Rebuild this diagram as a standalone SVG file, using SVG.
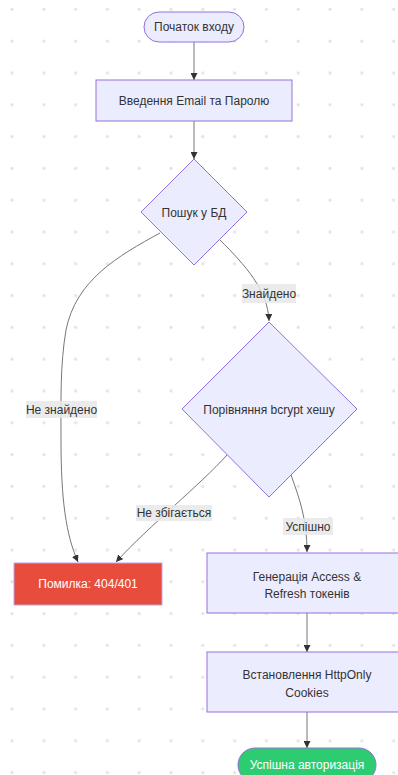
<svg xmlns="http://www.w3.org/2000/svg" width="398" height="775" viewBox="0 0 398 775">
  <style>
    .node-shape { fill: #ECECFF; stroke: #9370DB; stroke-width: 1; }
    .label { font-family: "Liberation Sans", "DejaVu Sans", sans-serif; font-size: 12px; fill: #333333; text-anchor: middle; dominant-baseline: central; }
    .label-light { fill: #ffffff; }
    .edge { fill: none; stroke: #777777; stroke-width: 1; }
    .edge-label-bg { fill: #e8e8e8; opacity: 0.85; }
  </style>
  <defs>
    <pattern id="dot-grid" patternUnits="userSpaceOnUse" x="0" y="0" width="31.8" height="31.8">
      <circle cx="12" cy="9.4" r="1.6" fill="#e3e3e3"/>
    </pattern>
    <marker id="arrow" viewBox="0 0 10 10" refX="10" refY="5" markerWidth="7" markerHeight="7" markerUnits="userSpaceOnUse" orient="auto">
      <path d="M0,0 L10,5 L0,10 z" fill="#333333"/>
    </marker>
  </defs>

  <!-- background -->
  <rect x="0" y="0" width="398" height="775" fill="#ffffff"/>
  <rect x="0" y="0" width="398" height="775" fill="url(#dot-grid)"/>

  <!-- connectors -->
  <g id="edges">
    <path class="edge" d="M194,42 L194,80" marker-end="url(#arrow)"/>
    <path class="edge" d="M194,121 L194,159" marker-end="url(#arrow)"/>
    <path class="edge" d="M220,240 C245,265 268,290 269,321" marker-end="url(#arrow)"/>
    <path class="edge" d="M160,233 C118,256 76,280 66,330 C60,365 61,400 61,440 C61,500 66,535 78,562" marker-end="url(#arrow)"/>
    <path class="edge" d="M227,455 C200,485 150,525 116,562" marker-end="url(#arrow)"/>
    <path class="edge" d="M291,475 C300,500 307,520 307,552" marker-end="url(#arrow)"/>
    <path class="edge" d="M307,613 L307,652" marker-end="url(#arrow)"/>
    <path class="edge" d="M307,712 L307,748" marker-end="url(#arrow)"/>

    <g id="edge-labels">
      <rect class="edge-label-bg" x="242" y="284" width="54" height="19"/>
      <text class="label" x="269" y="294">Знайдено</text>
      <rect class="edge-label-bg" x="26" y="401" width="71" height="17"/>
      <text class="label" x="61.5" y="410">Не знайдено</text>
      <rect class="edge-label-bg" x="136" y="505" width="76" height="16"/>
      <text class="label" x="174" y="513">Не збігається</text>
      <rect class="edge-label-bg" x="283" y="518" width="50" height="17"/>
      <text class="label" x="308" y="527">Успішно</text>
    </g>
  </g>

  <!-- nodes -->
  <g id="start">
    <rect class="node-shape" x="144" y="12" width="100" height="30" rx="15" ry="15"/>
    <text class="label" x="194" y="27">Початок входу</text>
  </g>

  <g id="input">
    <rect class="node-shape" x="96" y="80" width="196" height="41"/>
    <text class="label" x="194" y="101">Введення Email та Паролю</text>
  </g>

  <g id="lookup">
    <polygon class="node-shape" points="194,159 247,212 194,265 141,212"/>
    <text class="label" x="194" y="213">Пошук у БД</text>
  </g>

  <g id="compare">
    <polygon class="node-shape" points="269,322 357,409 269,497 182,409"/>
    <text class="label" x="269" y="410">Порівняння bcrypt хешу</text>
  </g>

  <g id="error">
    <rect x="14" y="563" width="148" height="42" fill="#e74c3c" stroke="#b9a6e6" stroke-width="1"/>
    <text class="label label-light" x="88" y="584">Помилка: 404/401</text>
  </g>

  <g id="tokens">
    <rect class="node-shape" x="207" y="553" width="200" height="60"/>
    <text class="label" x="307" y="577">Генерація Access &amp;</text>
    <text class="label" x="307" y="594">Refresh токенів</text>
  </g>

  <g id="cookies">
    <rect class="node-shape" x="207" y="652" width="200" height="60"/>
    <text class="label" x="307" y="675">Встановлення HttpOnly</text>
    <text class="label" x="307" y="693">Cookies</text>
  </g>

  <g id="success">
    <rect x="238" y="748" width="138" height="34" rx="17" ry="17" fill="#2ecc71" stroke="#9370DB" stroke-width="1"/>
    <text class="label label-light" x="307" y="765">Успішна авторизація</text>
  </g>
</svg>
